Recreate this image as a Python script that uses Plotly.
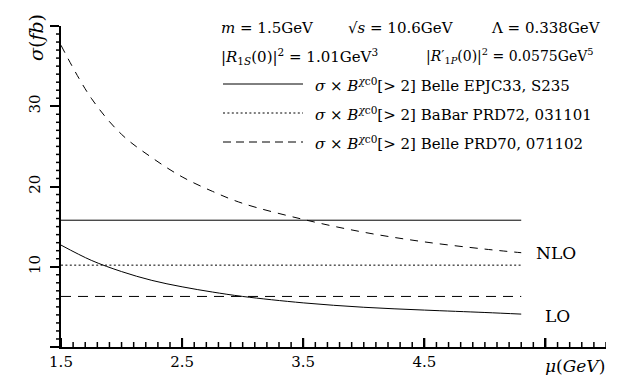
import plotly.graph_objects as go

# scale mu (GeV)
mu = [1.5, 1.75, 2.0, 2.25, 2.5, 2.75, 3.0, 3.5, 4.0, 4.5, 5.0, 5.3]
# theory curves, sigma (fb)
sigma_lo = [12.7, 10.8, 9.4, 8.3, 7.5, 6.85, 6.3, 5.5, 4.95, 4.6, 4.3, 4.1]
sigma_nlo = [37.6, 31.0, 26.5, 23.6, 21.2, 19.4, 17.9, 15.9, 14.3, 13.1, 12.2, 11.75]

# experimental values sigma x B[>2] (fb)
exp_mu = [1.5, 5.3]
belle_epjc33 = 15.8
babar_prd72 = 10.2
belle_prd70 = 6.3

FONT = "DejaVu Serif"
L, T, W, H = 53, 18, 545, 321
X_RANGE = [1.5, 6.0]
Y_RANGE = [0, 40]


def px(x):
    return (x - L) / W


def py(y):
    return (T + H - y) / H


fig = go.Figure()
line = dict(color="black", width=1)
fig.add_trace(go.Scatter(x=mu, y=sigma_lo, mode="lines", line=dict(line, shape="spline")))
fig.add_trace(go.Scatter(x=mu, y=sigma_nlo, mode="lines",
                         line=dict(line, shape="spline", dash="8px,7px")))
fig.add_trace(go.Scatter(x=exp_mu, y=[belle_epjc33] * 2, mode="lines", line=line))
fig.add_trace(go.Scatter(x=exp_mu, y=[babar_prd72] * 2, mode="lines", line=dict(line, dash="2px,2.4px")))
fig.add_trace(go.Scatter(x=exp_mu, y=[belle_prd70] * 2, mode="lines", line=dict(line, dash="10px,7px")))

ann = []


def text(x, y, s, size=15, **kw):
    ann.append(dict(x=px(x), y=py(y), xref="paper", yref="paper", text=s, showarrow=False,
                    xanchor=kw.pop("xanchor", "left"), yanchor="middle",
                    font=dict(family=FONT, size=size, color="black"), **kw))


text(211, 20, "<i>m</i> = 1.5GeV")
text(338, 20, "√<i>s</i> = 10.6GeV")
text(481, 20, "Λ = 0.338GeV")
text(211, 48, "|<i>R</i><sub>1<i>S</i></sub>(0)|<sup>2</sup> = 1.01GeV<sup>3</sup>")
text(416, 48, "|<i>R</i>′<sub>1<i>P</i></sub>(0)|<sup>2</sup> = 0.0575GeV<sup>5</sup>", size=14)
bx = "<i>σ</i> × <i>B</i><sup><i>χ</i>c0</sup>[> 2] "
text(305, 77, bx + "Belle EPJC33, S235")
text(305, 106, bx + "BaBar PRD72, 031101")
text(305, 135, bx + "Belle PRD70, 071102")
text(526, 245, "NLO", size=17)
text(535, 308, "LO", size=17)
text(567, 358, "<i>μ</i>(<i>GeV</i>)", size=17, xanchor="center")
text(28, 30, "<i>σ</i>(<i>fb</i>)", size=19, xanchor="center", textangle=-90)
fig.update_layout(annotations=ann)

shapes = []
# legend keys
for yy, dash in [(76, "solid"), (105, "2px,2.4px"), (134, "8px,5px")]:
    shapes.append(dict(type="line", xref="paper", yref="paper", x0=px(215), x1=px(295),
                       y0=py(yy), y1=py(yy), line=dict(color="black", width=1, dash=dash)))

# tick marks drawn as pixel-sized shapes (axis "minor" option hides ticks here)
for i in range(46):
    xv = round(X_RANGE[0] + 0.1 * i, 2)
    major = i % 10 == 0
    shapes.append(dict(type="line", xref="x", yref="paper", ysizemode="pixel", yanchor=0,
                       x0=xv, x1=xv, y0=0, y1=9 if major else 5,
                       line=dict(color="black", width=2 if major else 1.5)))
for yv in range(Y_RANGE[0], Y_RANGE[1] + 1):
    if yv % 10 == 0:
        continue
    shapes.append(dict(type="line", yref="y", xref="paper", xsizemode="pixel", xanchor=0,
                       y0=yv, y1=yv, x0=-5, x1=0, line=dict(color="black", width=1.5)))
fig.update_layout(shapes=shapes)

fig.update_layout(
    xaxis=dict(range=X_RANGE, showgrid=False, zeroline=False, showline=True,
               linecolor="black", linewidth=2, ticks="inside", ticklen=9, tickwidth=2,
               tickcolor="black", tick0=1.5, dtick=1,
               labelalias={"5.5": ""},
               tickfont=dict(family=FONT, size=15, color="black")),
    yaxis=dict(range=Y_RANGE, showgrid=False, zeroline=False, showline=True,
               linecolor="black", linewidth=2, ticks="outside", ticklen=9, tickwidth=2,
               tickcolor="black", tick0=0, dtick=10, ticklabelstandoff=4,
               labelalias={"0": "", "40": ""}, tickangle=-90,
               tickfont=dict(family=FONT, size=15, color="black")),
    width=625, height=375, showlegend=False,
    margin=dict(l=L, r=625 - L - W, t=T, b=375 - T - H),
    plot_bgcolor="white", paper_bgcolor="white",
)

fig.write_html("out.html")
